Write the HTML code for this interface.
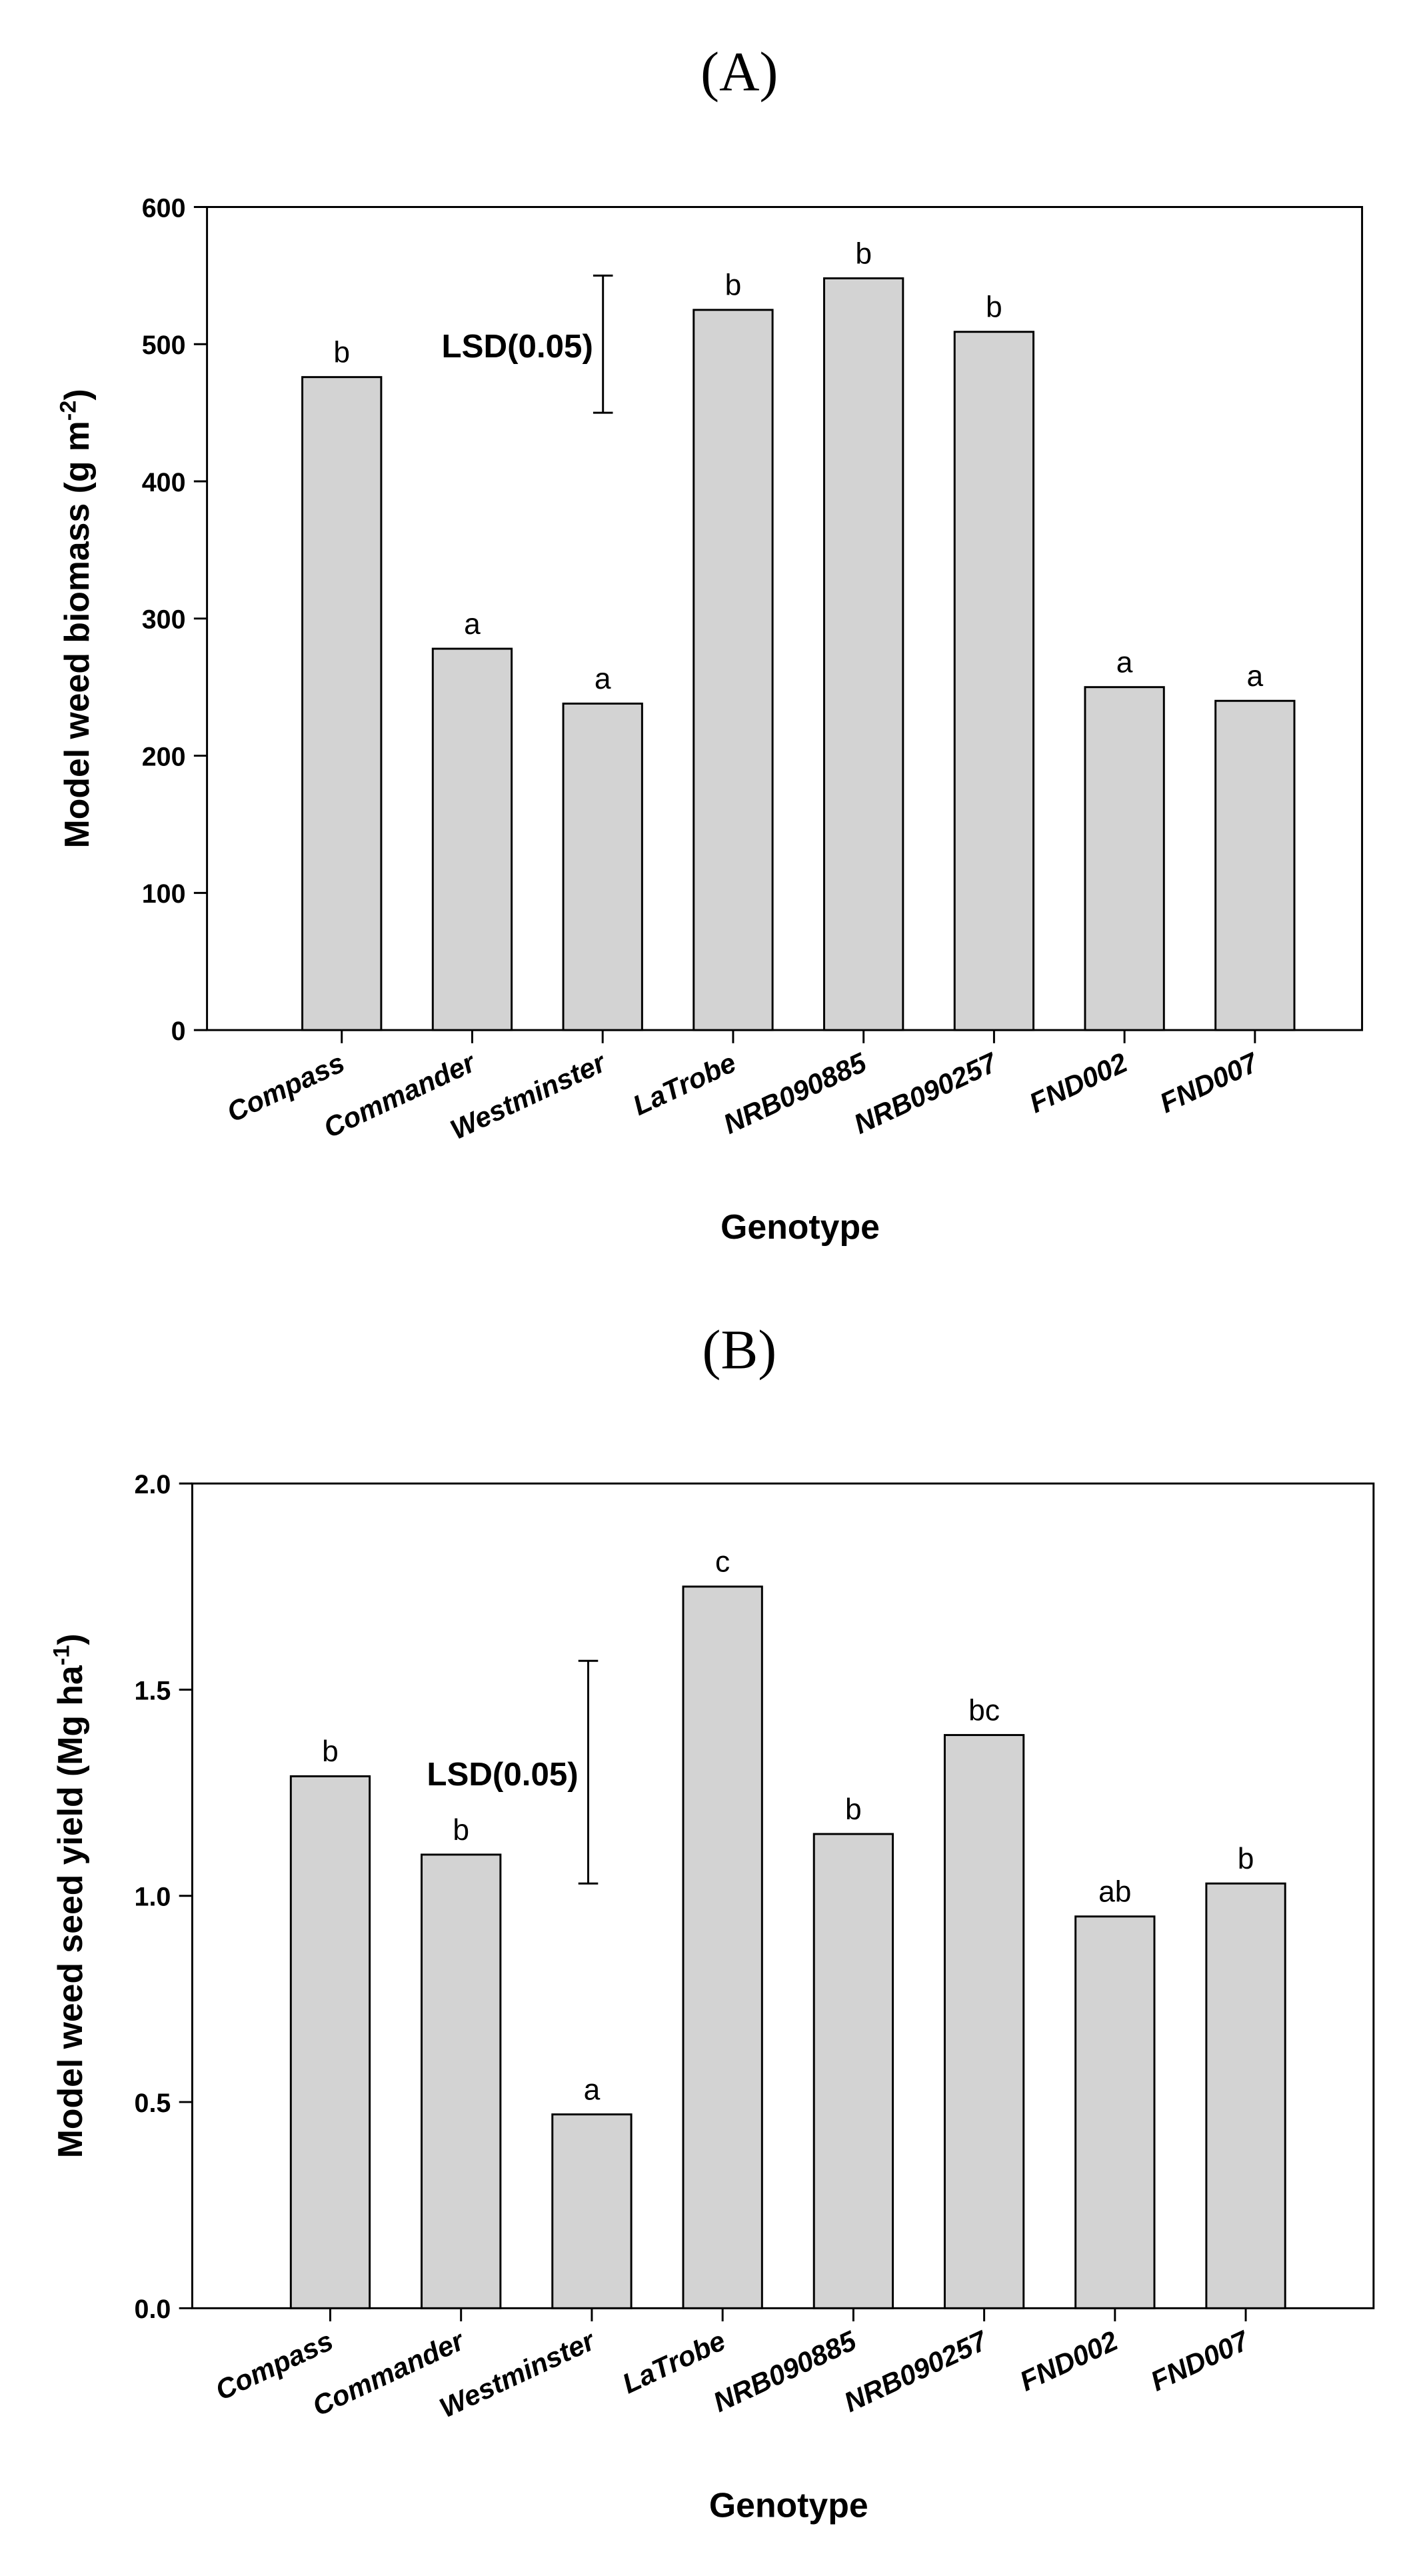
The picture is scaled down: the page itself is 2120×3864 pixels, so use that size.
<!DOCTYPE html>
<html><head><meta charset="utf-8"><style>
html,body{margin:0;padding:0;background:#fff}
svg{display:block}
text{font-family:"Liberation Sans",Arial,sans-serif}
</style></head><body>
<svg id="fig" width="2120" height="3864" viewBox="0 0 860 1568" preserveAspectRatio="none" xmlns="http://www.w3.org/2000/svg">
<text x="450" y="55" text-anchor="middle" font-size="34" style="font-family:'Liberation Serif',serif">(A)</text>
<text x="450" y="833" text-anchor="middle" font-size="34" style="font-family:'Liberation Serif',serif">(B)</text>
<g id="A"></g>
<g id="B"></g>
</svg>
<script>
const categories = ["Compass","Commander","Westminster","LaTrobe","NRB090885","NRB090257","FND002","FND007"];
const biomassValues = [476,278,238,525,548,509,250,240];
const biomassLetters = ["b","a","a","b","b","b","a","a"];
const biomassTicks = [0,100,200,300,400,500,600];
const biomassTickLabels = ["0","100","200","300","400","500","600"];
const biomassLSD = [450,550];
const seedValues = [1.29,1.10,0.47,1.75,1.15,1.39,0.95,1.03];
const seedLetters = ["b","b","a","c","b","bc","ab","b"];
const seedTicks = [0,0.5,1.0,1.5,2.0];
const seedTickLabels = ["0.0","0.5","1.0","1.5","2.0"];
const seedLSD = [1.03,1.57];

const NS="http://www.w3.org/2000/svg";
function mk(parent,tag,attrs,txt){const e=document.createElementNS(NS,tag);for(const k in attrs)e.setAttribute(k,attrs[k]);if(txt!==undefined)e.textContent=txt;parent.appendChild(e);return e;}

function drawPanel(g,cfg){
  const {left,right,top,bottom,ymax,firstC,step,bw,values,letters,ticks,tickLabels,lsd,lsdX,ytitle,ysup,ytitleX,xtitleY,xtitleX}=cfg;
  const y=v=>bottom-(v/ymax)*(bottom-top);
  const x=i=>firstC+i*step;
  let r=mk(g,'rect',{x:left,y:top,width:right-left,height:bottom-top,fill:'none',stroke:'#000','stroke-width':1.2});
  
  
  ticks.forEach((t,i)=>{
    let l=mk(g,'line',{x1:left-8,x2:left,y1:y(t),y2:y(t),stroke:'#000','stroke-width':1.2});
    
    
    let tx=mk(g,'text',{x:left-13,y:y(t)+6,'text-anchor':'end','font-size':16,'font-weight':'bold'},tickLabels[i]);
    
    
  });
  values.forEach((v,i)=>{
    let b=mk(g,'rect',{x:x(i)-bw/2,y:y(v),width:bw,height:bottom-y(v),fill:'#d3d3d3',stroke:'#000','stroke-width':1.2});
    
    
    let lt=mk(g,'text',{x:x(i),y:y(v)-9,'text-anchor':'middle','font-size':18},letters[i]);
    
    
    let tk=mk(g,'line',{x1:x(i),x2:x(i),y1:bottom,y2:bottom+8,stroke:'#000','stroke-width':1.2});
    
    
    let xl=mk(g,'text',{x:x(i)+3,y:bottom+24,'text-anchor':'end','font-size':17,'font-weight':'bold','font-style':'italic',transform:`rotate(-25 ${x(i)+3} ${bottom+24})`},categories[i]);
    
    
  });
  const ly1=y(lsd[0]),ly2=y(lsd[1]);
  let lg=mk(g,'g',{});
  
  
  mk(lg,'line',{x1:lsdX,x2:lsdX,y1:ly1,y2:ly2,stroke:'#000','stroke-width':1.2});
  mk(lg,'line',{x1:lsdX-6,x2:lsdX+6,y1:ly1,y2:ly1,stroke:'#000','stroke-width':1.2});
  mk(lg,'line',{x1:lsdX-6,x2:lsdX+6,y1:ly2,y2:ly2,stroke:'#000','stroke-width':1.2});
  let ll=mk(g,'text',{x:lsdX-6,y:(ly1+ly2)/2+8,'text-anchor':'end','font-size':20,'font-weight':'bold'},'LSD(0.05)');
  
  
  const cy=(top+bottom)/2;
  let yt=mk(g,'text',{x:ytitleX,y:cy,'text-anchor':'middle','font-size':21,'font-weight':'bold',transform:`rotate(-90 ${ytitleX} ${cy})`});
  
  
  mk(yt,'tspan',{},ytitle);
  mk(yt,'tspan',{dy:-8,'font-size':14},ysup);
  mk(yt,'tspan',{dy:8},')');
  let xt=mk(g,'text',{x:xtitleX,y:xtitleY,'text-anchor':'middle','font-size':21,'font-weight':'bold'},'Genotype');
  
  
}
drawPanel(document.getElementById('A'),{left:126,right:829,top:126,bottom:627,ymax:600,firstC:208,step:79.4,bw:48,values:biomassValues,letters:biomassLetters,ticks:biomassTicks,tickLabels:biomassTickLabels,lsd:biomassLSD,lsdX:367,ytitle:'Model weed biomass (g m',ysup:'-2',ytitleX:54,xtitleY:754,xtitleX:487});
drawPanel(document.getElementById('B'),{left:117,right:836,top:903,bottom:1405,ymax:2.0,firstC:201,step:79.6,bw:48,values:seedValues,letters:seedLetters,ticks:seedTicks,tickLabels:seedTickLabels,lsd:seedLSD,lsdX:358,ytitle:'Model weed seed yield (Mg ha',ysup:'-1',ytitleX:50,xtitleY:1532,xtitleX:480});
</script>
</body></html>
